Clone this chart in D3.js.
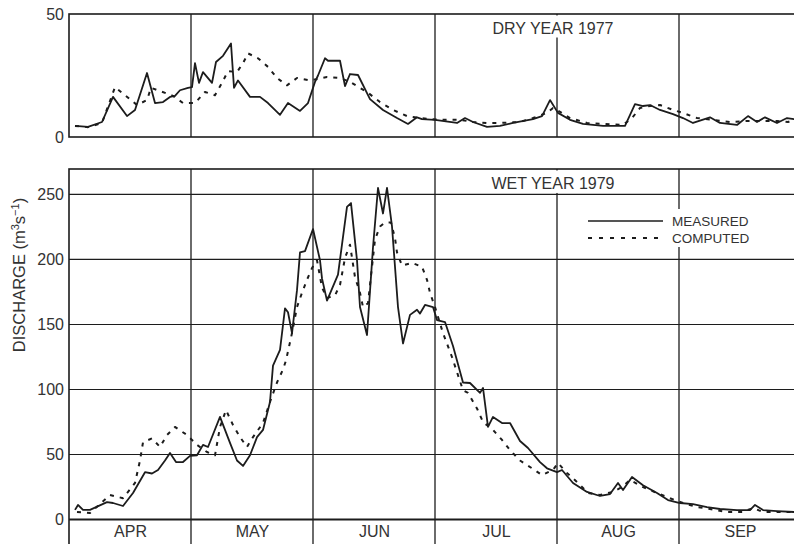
<!DOCTYPE html>
<html>
<head>
<meta charset="utf-8">
<script src="https://cdn.jsdelivr.net/npm/d3@7"></script>
<style>
  body { margin: 0; background: #fff; }
  svg text { font-family: "Liberation Sans", Arial, sans-serif; fill: #333; }
</style>
</head>
<body>
<div id="chart"></div>
<script>
// days counted from 1 April, 30.5 days per month on the axis
const months = ["APR", "MAY", "JUN", "JUL", "AUG", "SEP"];
const monthDays = 30.5;

// dry year 1977 [day, discharge]
const dryMeasured = [[1.5,4.5],[4.75,4.1],[8.25,6.1],[11,16.3],[14.5,8.5],[16.5,11],[19.5,26],[21.5,13.8],[23.5,14.2],[25.25,16.3],[26.5,16.7],[27.75,19],[29.75,20],[30.75,20.3],[31.5,30],[32.5,22],[33.5,26.4],[35.75,22],[36.75,30.5],[38.5,33],[40.5,38],[41.25,20],[42.25,23],[45.25,16.3],[47.75,16.3],[49.75,13.8],[52.75,9],[54.75,13.8],[57.75,10.6],[59.75,13.8],[61.5,22.4],[62.25,25],[64,32],[64.75,31],[67.75,31],[69,20.7],[70.25,25.6],[72.25,25.2],[75.25,15.4],[78.5,11],[82,7.7],[84.75,5.3],[87,8],[88.25,7.3],[91.5,7],[97,5.7],[99,7.7],[101,6.1],[104.5,4.1],[107.75,4.5],[111,5.7],[116,7.3],[118.25,8.5],[120.25,15],[122.25,9.8],[125.25,7],[128.5,5.3],[133.5,4.5],[139,4.5],[141.5,13.4],[143.5,12.6],[145.25,13],[147.75,11],[151,9.3],[153.5,7.7],[156,5.7],[160.25,8],[162.75,5.7],[167,4.9],[169.75,8.5],[172,6.1],[174,8],[177,5.7],[179.5,7.7],[181.25,7.3],[183,7]];
const dryComputed = [[1.5,4.5],[4.75,4],[8.25,5.7],[11.5,20.3],[14,17],[17,13],[19.5,15],[20.5,20],[22.75,18.7],[26,16.7],[28.5,13.8],[31.5,13.8],[34,18.3],[36.5,17],[38.25,22],[39.75,26.8],[42,26.4],[43.5,30],[44.75,34],[47.25,32],[49.75,28.5],[52,24],[54.5,21],[57,24],[60.25,23],[64.5,24.4],[67.75,24],[70.25,22.4],[74.5,18.3],[77.75,14.2],[81,11],[84.5,8.5],[87.75,7.7],[92.75,7],[97.75,7],[101,6.1],[104.5,5.7],[107.75,5.7],[112.75,6.1],[116,7.7],[119.5,9.8],[121,11.8],[122,11],[125.25,7.7],[129.5,5.7],[133.5,5.3],[138.5,4.9],[140.75,7.7],[142.75,11.8],[145.25,12.6],[147.75,13],[151,11],[153.5,9.8],[157,7.7],[161,7],[165.25,6.1],[169.5,6.5],[173.5,6.5],[177,6.5],[179.75,6.1],[181.25,7],[183,7]];

// wet year 1979 [day, discharge]
const wetMeasured = [[1.5,7],[2.25,10.8],[3.5,7],[5.25,7],[9.5,13],[11,12.3],[13.5,10],[16,20],[19,36],[20.75,35],[22.25,37.7],[24,45],[25.25,50.8],[26.75,43.8],[28.5,43.8],[30.25,48.5],[32,49],[33.5,57],[34.75,55.4],[37.75,78.5],[40.25,58.5],[42,45],[43.5,40.8],[45.25,49],[47,63],[48.5,68.5],[50.25,90],[51,118],[52.75,130],[54,162],[54.75,159],[55.75,143],[57,176],[57.75,205],[59,206],[61,223],[62.75,199],[63.25,185],[64.5,168],[67.25,188],[69.5,240],[70.5,243],[72,199],[72.75,163],[74.5,141.5],[76,209],[77.25,254.6],[78.5,235],[79.5,254.6],[80.75,225],[82.25,163],[83.5,135],[85.25,157],[87,161],[87.75,158],[89,164.6],[91,163],[92,153],[94,151.5],[96,133],[98.5,105],[100.25,104.6],[102.75,97],[103.5,100.8],[104.75,70.8],[106,78.5],[108.25,73.8],[110.25,73.8],[112.75,60],[114.75,54.6],[117.75,43.8],[119.5,39],[122,36],[123.25,37.7],[126,27.7],[129.5,20.8],[132.75,17.7],[135.25,19.2],[137.25,27.7],[138.5,22.3],[140.75,32.3],[143.5,26],[147,20],[149.75,14.6],[152.75,12.3],[156,11.5],[159.5,9.2],[162.75,7.7],[167,6.9],[170.25,6.9],[171.5,10.8],[173.5,6.9],[177,6.1],[181.25,5.4],[183,5.4]];
const wetComputed = [[2,5.4],[5.25,4.6],[10.25,18.5],[13.5,16],[16.5,27.7],[17.75,45],[18.5,59],[20.75,62],[22.75,55.4],[24.5,64.6],[26.5,70.8],[29.5,64.6],[32,57],[34.5,51.5],[36.5,49],[37.75,70.8],[39.25,83.8],[41,72.3],[42.75,63],[44.5,55.4],[46,63],[48.5,73.8],[50.25,90],[52,105],[53.5,115],[54.25,122],[55.75,143],[57,163],[58.25,174],[59.5,184],[60.75,193],[62,199],[63.25,178],[64.5,170],[66.5,172],[67.75,180],[69,200.8],[70.25,211],[71.5,186],[72.75,174],[73.5,163],[74.75,166],[75.75,194],[76.5,215],[77.75,225],[79,228],[80.5,228],[81.5,216],[82,205],[83.25,195],[85.75,197],[88.25,194],[89.5,184],[90.25,174],[91.5,163],[93.5,143],[95.75,124.6],[98.5,99],[99.75,97],[102,85],[103.5,74.6],[106,68.5],[108.25,60.8],[110.25,53],[112.75,45],[115.75,39],[118.25,33.8],[121,37.7],[122.25,43],[124.5,35.4],[127,28.5],[129.75,20],[132.75,18.5],[136,20.8],[138.25,24.6],[140.25,30],[143.5,24.6],[147,20],[150.25,16],[153.5,12.3],[157,9.2],[160.25,7.7],[164.5,5.4],[168.5,5.4],[171,8.5],[173.5,5.4],[177,5.4],[181.25,5.4],[183,5.4]];

const dryTicks = [0, 50];
const wetTicks = [0, 50, 100, 150, 200, 250];

const W = 794, H = 544;
const ink = "#1c1c1c";
const left = 69, right = 801;

const svg = d3.select("#chart").append("svg")
  .attr("width", W).attr("height", H);

const x = d3.scaleLinear().domain([0, 6 * monthDays]).range([left, right]);
const boundaries = d3.range(1, 6).map(i => i * monthDays);

function monthLines(g, y0, y1) {
  g.selectAll("line.month").data(boundaries).enter().append("line")
    .attr("class", "month")
    .attr("x1", d => x(d)).attr("x2", d => x(d))
    .attr("y1", y0).attr("y2", y1)
    .attr("stroke", ink).attr("stroke-width", 1.3);
}

function drawSeries(g, data, y, dashed) {
  const line = d3.line().x(d => x(d[0])).y(d => y(d[1]));
  g.append("path").datum(data)
    .attr("d", line)
    .attr("fill", "none")
    .attr("stroke", ink)
    .attr("stroke-width", dashed ? 2 : 1.8)
    .attr("stroke-linejoin", "round")
    .attr("stroke-dasharray", dashed ? "4,6" : null);
}

// ---------- top panel: dry year ----------
const yDry = d3.scaleLinear().domain([0, 50]).range([137, 14]);

const dryPanel = svg.append("g");
monthLines(dryPanel, yDry(50), yDry(0));

dryPanel.append("g")
  .attr("transform", `translate(${left},0)`)
  .call(d3.axisLeft(yDry).tickValues(dryTicks).tickSize(0).tickPadding(5))
  .call(g => g.select(".domain").remove())
  .call(g => g.selectAll("text").style("font-size", "16px").attr("fill", "#333"));

// title with white box (breaks the month line)
dryPanel.append("rect").attr("x", 488).attr("y", yDry(50) + 1.5).attr("width", 131).attr("height", 22).attr("fill", "#fff");
dryPanel.append("text").attr("x", 553).attr("y", 34).attr("text-anchor", "middle")
  .style("font-size", "16px").text("DRY YEAR 1977");

drawSeries(dryPanel, dryComputed, yDry, true);
drawSeries(dryPanel, dryMeasured, yDry, false);

dryPanel.append("rect")
  .attr("x", left).attr("y", yDry(50))
  .attr("width", right - left).attr("height", yDry(0) - yDry(50))
  .attr("fill", "none").attr("stroke", ink).attr("stroke-width", 1.6);

// ---------- bottom panel: wet year ----------
const yWet = d3.scaleLinear().domain([0, 269.2]).range([519, 169]);
const bottomEdge = 549;

const wetPanel = svg.append("g");
monthLines(wetPanel, yWet(269.2), bottomEdge);

wetPanel.append("g")
  .attr("transform", `translate(${left},0)`)
  .call(d3.axisLeft(yWet).tickValues(wetTicks).tickSize(-(right - left)).tickPadding(5))
  .call(g => g.select(".domain").remove())
  .call(g => g.selectAll(".tick line").attr("stroke", ink).attr("stroke-width", d => d === 0 ? 2 : 1.2))
  .call(g => g.selectAll("text").style("font-size", "16px").attr("fill", "#333"));

// month labels in the strip under the zero line
wetPanel.append("g")
  .attr("transform", `translate(0,${yWet(0)})`)
  .call(d3.axisBottom(x)
    .tickValues(months.map((m, i) => (i + 0.5) * monthDays))
    .tickFormat((d, i) => months[i]).tickSize(0).tickPadding(7))
  .call(g => g.select(".domain").remove())
  .call(g => g.selectAll("text").style("font-size", "16px").attr("fill", "#333"));

// title box
wetPanel.append("rect").attr("x", 488).attr("y", yWet(269.2) + 1.5).attr("width", 131).attr("height", yWet(250) - yWet(269.2) - 2.5).attr("fill", "#fff");
wetPanel.append("text").attr("x", 553).attr("y", 189).attr("text-anchor", "middle")
  .style("font-size", "16px").text("WET YEAR 1979");

// legend
const lg = wetPanel.append("g");
lg.append("rect").attr("x", 582).attr("y", 209).attr("width", 172).attr("height", 38).attr("fill", "#fff");
lg.append("line").attr("x1", 588).attr("x2", 663).attr("y1", 221).attr("y2", 221)
  .attr("stroke", ink).attr("stroke-width", 1.6);
lg.append("line").attr("x1", 588).attr("x2", 663).attr("y1", 238).attr("y2", 238)
  .attr("stroke", ink).attr("stroke-width", 2).attr("stroke-dasharray", "4,7");
lg.append("text").attr("x", 672).attr("y", 226).style("font-size", "13.5px").text("MEASURED");
lg.append("text").attr("x", 672).attr("y", 243).style("font-size", "13.5px").text("COMPUTED");

drawSeries(wetPanel, wetComputed, yWet, true);
drawSeries(wetPanel, wetMeasured, yWet, false);

wetPanel.append("rect")
  .attr("x", left).attr("y", yWet(269.2))
  .attr("width", right - left).attr("height", bottomEdge - yWet(269.2))
  .attr("fill", "none").attr("stroke", ink).attr("stroke-width", 1.6);

// y axis title
const yt = svg.append("text")
  .attr("transform", "translate(25,275) rotate(-90)")
  .attr("text-anchor", "middle")
  .style("font-size", "16.5px");
yt.append("tspan").text("DISCHARGE (m");
yt.append("tspan").attr("baseline-shift", "super").style("font-size", "11px").text("3");
yt.append("tspan").text("s");
yt.append("tspan").attr("baseline-shift", "super").style("font-size", "11px").text("−1");
yt.append("tspan").text(")");
</script>
</body>
</html>
